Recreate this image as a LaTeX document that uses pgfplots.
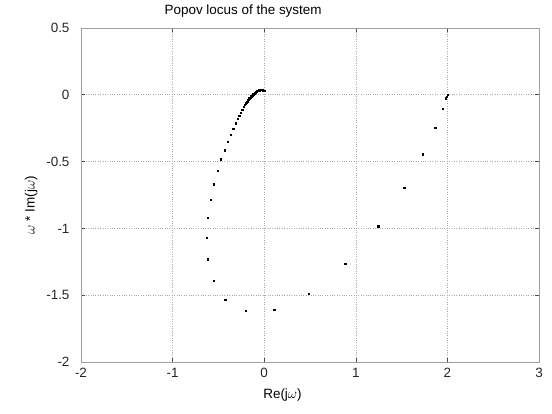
\documentclass[border=0pt]{standalone}
\usepackage{fontspec}
\setmainfont{Liberation Sans}
\usepackage{pgfplots}
\pgfplotsset{compat=1.18}
\usetikzlibrary{calc}
\begin{document}
\begin{tikzpicture}
\begin{axis}[
  scale only axis,
  width=458bp, height=334bp,
  xmin=-2, xmax=3, ymin=-2, ymax=0.5,
  xtick={-2,-1,0,1,2,3},
  ytick={-2,-1.5,-1,-0.5,0,0.5},
  /pgf/number format/assume math mode=true,
  tick label style={font=\fontsize{13.5}{15}\selectfont, black!85},
  label style={font=\fontsize{13.5}{15}\selectfont},
  grid=major,
  major grid style={dotted, gray!70, line width=0.6pt},
  axis line style={gray!75, line width=0.8pt},
  tick align=inside,
  major tick length=4bp,
  tick style={gray!60!black, line width=0.6pt},
  xticklabel style={yshift=-3bp},
  yticklabel style={xshift=-8bp},
  yticklabel style={/pgf/number format/fixed},
  xlabel={Re(j$\omega$)},
  ylabel={$\omega$ * Im(j$\omega$)},
  xlabel style={at={(axis description cs:0.44,0)}, anchor=north, yshift=-23bp},
  ylabel style={at={(axis description cs:0,0.47)}, anchor=south, yshift=40bp},
  title={Popov locus of the system},
  title style={at={(axis description cs:0.354,1)}, anchor=south, font=\fontsize{13.5}{15}\selectfont, yshift=1bp},
]
\addplot[only marks, mark=square*, mark size=0.6pt, black] coordinates {
(2.000,0.000) (1.994,-0.012) (1.985,-0.026) (1.945,-0.105) (1.867,-0.247)
(1.732,-0.444) (1.528,-0.696) (1.245,-0.983) (0.884,-1.263) (0.488,-1.488)
(0.109,-1.609) (-0.204,-1.617) (-0.426,-1.532) (-0.553,-1.392) (-0.615,-1.230)
(-0.630,-1.070) (-0.615,-0.918) (-0.586,-0.786) (-0.549,-0.669) (-0.510,-0.569)
(-0.471,-0.482) (-0.434,-0.414) (-0.400,-0.350) (-0.368,-0.300) (-0.338,-0.255)
(-0.313,-0.212) (-0.291,-0.180) (-0.273,-0.155) (-0.254,-0.132) (-0.240,-0.112)
(-0.226,-0.092) (-0.213,-0.076) (-0.203,-0.065) (-0.197,-0.060) (-0.191,-0.054)
(-0.186,-0.049) (-0.180,-0.043) (-0.175,-0.037) (-0.170,-0.032) (-0.164,-0.026)
(-0.158,-0.022) (-0.153,-0.019) (-0.147,-0.015) (-0.142,-0.011) (-0.136,-0.007)
(-0.131,-0.004) (-0.125,0.000) (-0.120,0.004) (-0.114,0.008) (-0.109,0.011)
(-0.103,0.014) (-0.098,0.017) (-0.092,0.020) (-0.087,0.022) (-0.081,0.025)
(-0.076,0.028) (-0.071,0.030) (-0.066,0.032) (-0.060,0.034) (-0.055,0.035)
(-0.049,0.036) (-0.044,0.037) (-0.038,0.037) (-0.033,0.037) (-0.027,0.037)
(-0.022,0.036) (-0.016,0.034) (-0.011,0.032) (-0.006,0.030) (0.000,0.028)
};
\end{axis}
\pgfresetboundingbox
\path[use as bounding box] ($(current axis.south west)+(-81bp,-52bp)$) rectangle ($(current axis.north east)+(13bp,28bp)$);
\end{tikzpicture}
\end{document}
